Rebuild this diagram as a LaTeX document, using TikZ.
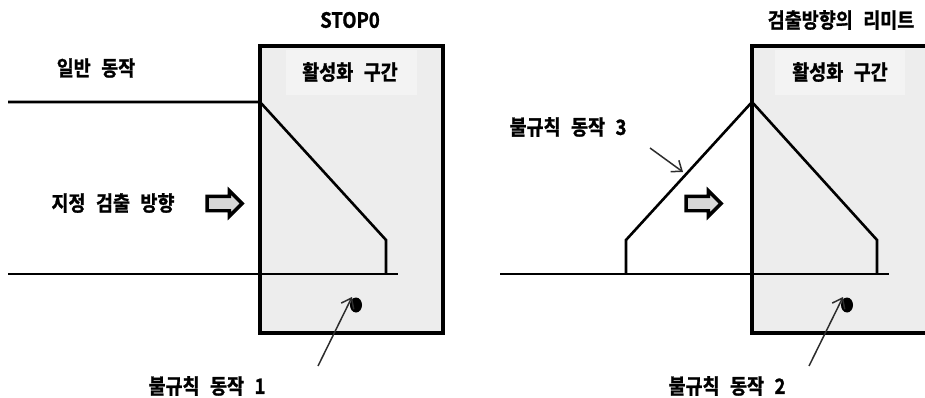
\documentclass[tikz,border=0pt]{standalone}
\usepackage{fontspec}
\setmainfont{Noto Sans CJK KR}[BoldFont={* Bold},BoldFeatures={FakeBold=1.2,FakeStretch=0.88}]
\usetikzlibrary{arrows.meta,shapes.arrows,shapes.geometric}
\definecolor{zonefill}{RGB}{237,237,237}
\definecolor{labelfill}{RGB}{243,243,243}
\definecolor{blockfill}{RGB}{215,215,215}
\definecolor{pointer}{RGB}{45,45,45}
\newcommand{\ksp}{\hspace{0.5em}}
\tikzset{
  txt/.style={font=\fontsize{21pt}{23pt}\selectfont\bfseries, inner sep=0pt, anchor=center},
  zone/.style={draw=black, line width=4pt, fill=zonefill},
  labelbox/.style={fill=labelfill, draw=none},
  motion/.style={line width=2.6pt, line join=miter},
  base/.style={line width=1.5pt},
  blockarrow/.style={single arrow, draw=black, line width=3.4pt, fill=blockfill,
    minimum height=35pt, minimum width=22pt, inner xsep=0pt, inner ysep=5.5pt,
    single arrow head extend=5.5pt},
  dotfill/.style={fill=black},
  pointerarrow/.style={draw=pointer, line width=1.5pt, -{Straight Barb[length=9pt,width=14pt,line width=1.5pt]}}
}
\begin{document}
\begin{tikzpicture}[x=1pt,y=-1pt]
\useasboundingbox (0,0) rectangle (925,398);
\clip (0,0) rectangle (925,398);
% ---------- left diagram ----------
\draw[zone] (260,46) rectangle (443,333);
\fill[labelbox] (286,50) rectangle (417,95);
\node[txt] (lact) at (350,72) {활성화\ksp 구간};
\node[txt] (stop) at (350,20) {STOP0};
\node[txt] (normal) at (96,68) {일반\ksp 동작};
\node[txt] (dir) at (113,203) {지정\ksp 검출\ksp 방향};
\node[blockarrow] (ldirarrow) at (221,203.5) {};
\coordinate (l0) at (8,102);
\coordinate (l1) at (260,102);
\coordinate (l2) at (386,240);
\coordinate (l3) at (386,274);
\draw[motion] (l0) -- (l1) -- (l2) -- (l3);
\coordinate (lb0) at (8,274);
\coordinate (lb1) at (398,274);
\draw[base] (lb0) -- (lb1);
\coordinate (ldot) at (356,305);
\fill[dotfill] (ldot) ellipse [x radius=6pt, y radius=7.5pt];
\node[txt] (irr1) at (207,386) {불규칙\ksp 동작\ksp 1};
\coordinate (p1) at (318,366);
\draw[pointerarrow] (p1) -- ([shift={(-4pt,8pt)}]ldot);
% ---------- right diagram ----------
\draw[zone] (752,46) rectangle (940,333);
\fill[labelbox] (775,50) rectangle (905,95);
\node[txt] (ract) at (840,72) {활성화\ksp 구간};
\node[txt] (limit) at (841,20) {검출방향의\ksp 리미트};
\node[txt] (irr3) at (568,127) {불규칙\ksp 동작\ksp 3};
\node[blockarrow] (rdirarrow) at (700,203.5) {};
\coordinate (r0) at (626,274);
\coordinate (r1) at (626,240);
\coordinate (r2) at (752,102);
\coordinate (r3) at (877,240);
\coordinate (r4) at (877,274);
\draw[motion] (r0) -- (r1) -- (r2) -- (r3) -- (r4);
\coordinate (rb0) at (500,274);
\coordinate (rb1) at (889,274);
\draw[base] (rb0) -- (rb1);
\coordinate (rdot) at (847,305);
\fill[dotfill] (rdot) ellipse [x radius=6pt, y radius=7.5pt];
\node[txt] (irr2) at (727,386) {불규칙\ksp 동작\ksp 2};
\coordinate (p2) at (809,366);
\draw[pointerarrow] (p2) -- ([shift={(-4pt,8pt)}]rdot);
\coordinate (p3) at (650,148);
\coordinate (p3t) at (683,172);
\draw[pointerarrow] (p3) -- (p3t);
\end{tikzpicture}
\end{document}
